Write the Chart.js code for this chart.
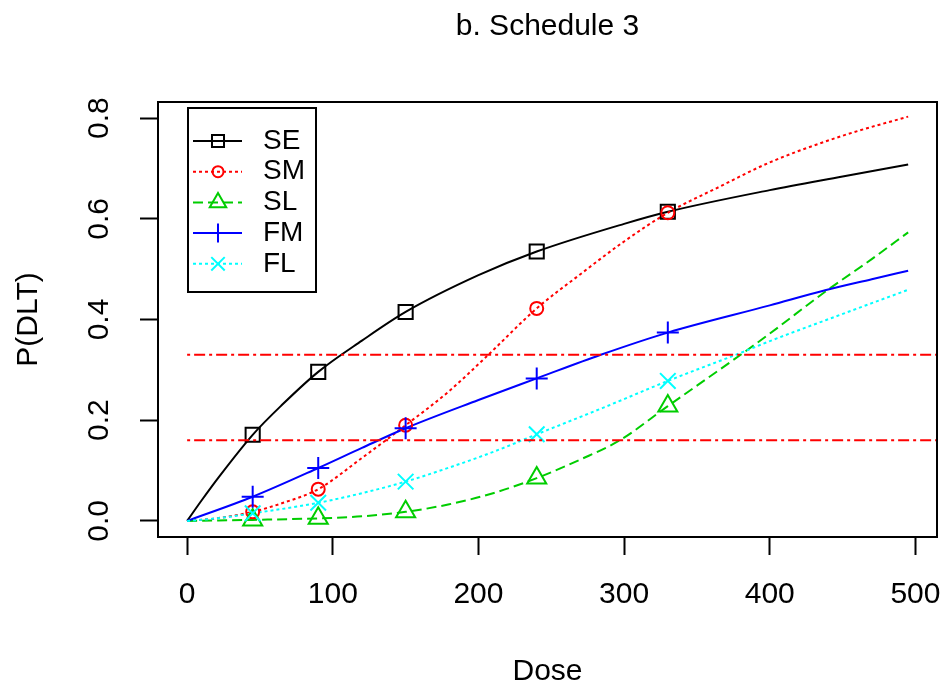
<!DOCTYPE html>
<html>
<head>
<meta charset="utf-8">
<script src="https://cdn.jsdelivr.net/npm/chart.js@4.4.0/dist/chart.umd.min.js"></script>
<style>
  html, body { margin: 0; padding: 0; background: #fff; }
  canvas { display: block; }
</style>
</head>
<body>
<canvas id="chart" width="950" height="692"></canvas>
<script>
// P(DLT) vs dose, schedule 3 — five dose-toxicity curves + target band lines.
const TITLE = "b. Schedule 3";
const xTicks = [0, 100, 200, 300, 400, 500];
const yTicks = [0, 0.2, 0.4, 0.6, 0.8];
const markerDoses = [45, 90, 150, 240, 330];
const thresholds = [0.16, 0.33];
const thresholdDose = [0, 515];

const seDose = [0, 10, 22, 45, 65, 90, 120, 150, 200, 240, 300, 330, 400, 450, 495];
const seProb = [0, 0.041, 0.088, 0.171, 0.23, 0.296, 0.358, 0.415, 0.488, 0.535, 0.59, 0.614, 0.657, 0.684, 0.708];

const smDose = [0, 20, 45, 65, 90, 120, 150, 180, 205, 240, 270, 300, 330, 365, 400, 450, 495];
const smProb = [0, 0.005, 0.018, 0.035, 0.063, 0.125, 0.19, 0.258, 0.325, 0.422, 0.49, 0.555, 0.612, 0.663, 0.712, 0.765, 0.803];

const slDose = [0, 45, 90, 120, 150, 180, 210, 240, 270, 297, 330, 380, 400, 438, 470, 495];
const slProb = [0, 0.002, 0.005, 0.009, 0.018, 0.033, 0.055, 0.085, 0.122, 0.16, 0.228, 0.33, 0.372, 0.455, 0.52, 0.573];

const fmDose = [0, 45, 90, 120, 150, 200, 240, 284, 330, 400, 438, 470, 495];
const fmProb = [0, 0.048, 0.105, 0.145, 0.184, 0.24, 0.283, 0.33, 0.374, 0.428, 0.458, 0.48, 0.497];

const flDose = [0, 20, 45, 90, 120, 150, 180, 211, 240, 285, 330, 382, 400, 449, 495];
const flProb = [0, 0.005, 0.015, 0.036, 0.055, 0.078, 0.106, 0.138, 0.172, 0.224, 0.278, 0.336, 0.357, 0.41, 0.459];

const FONT = "'Liberation Sans', Arial, sans-serif";
Chart.defaults.font.family = FONT;
Chart.defaults.color = "#000";

// стиль каждой кривой (R: lty / pch)
const series = [
  { name: "SE", dose: seDose, prob: seProb, color: "#000000", dash: [],      style: "rect",     r: 10,  lr: 8.5 },
  { name: "SM", dose: smDose, prob: smProb, color: "#ff0000", dash: [3, 3],  style: "circle",   r: 6.5, lr: 5.5 },
  { name: "SL", dose: slDose, prob: slProb, color: "#00cd00", dash: [10, 5], style: "triangle", r: 11,  lr: 9.5 },
  { name: "FM", dose: fmDose, prob: fmProb, color: "#0000ff", dash: [],      style: "cross",    r: 11,  lr: 9.5 },
  { name: "FL", dose: flDose, prob: flProb, color: "#00ffff", dash: [3, 3],  style: "crossRot", r: 11,  lr: 9.5 },
];

const datasets = [];
thresholds.forEach((t) => {
  datasets.push({
    data: thresholdDose.map((d) => ({ x: d, y: t })),
    borderColor: "#ff0000", borderWidth: 2, borderDash: [3, 4, 11, 4],
    pointRadius: 0, fill: false, order: -1,
  });
});
series.forEach((s, i) => {
  const pts = s.dose.map((d, k) => ({ x: d, y: s.prob[k] }));
  datasets.push({
    label: s.name, data: pts,
    borderColor: s.color, borderWidth: 2, borderDash: s.dash,
    pointRadius: 0, fill: false, cubicInterpolationMode: "monotone",
    order: 20 - i,
  });
  datasets.push({
    data: pts.filter((p) => markerDoses.includes(p.x)),
    showLine: false, pointStyle: s.style, pointRadius: s.r,
    pointBorderColor: s.color, pointBackgroundColor: "rgba(0,0,0,0)", pointBorderWidth: 2,
    order: 10 - i,
  });
});

const boxPlugin = {
  id: "rbox",
  afterDatasetsDraw(chart) {
    const { ctx, chartArea: a } = chart;
    ctx.save();
    ctx.strokeStyle = "#000";
    ctx.lineWidth = 2;
    ctx.setLineDash([]);
    ctx.strokeRect(a.left, a.top, a.right - a.left, a.bottom - a.top);

    // заголовок — по центру области графика, как в R
    ctx.fillStyle = "#000";
    ctx.font = "30px " + FONT;
    ctx.textAlign = "center";
    ctx.textBaseline = "middle";
    ctx.fillText(TITLE, (a.left + a.right) / 2, 27);

    // легенда в духе R legend()
    const lx = a.left + 30, ly = a.top + 6, lw = 128, lh = 184;
    ctx.strokeRect(lx, ly, lw, lh);
    ctx.font = "28px " + FONT;
    ctx.textAlign = "left";
    series.forEach((s, i) => {
      const y = ly + 33 + i * 30.7;
      ctx.strokeStyle = s.color;
      ctx.lineWidth = 2;
      ctx.setLineDash(s.dash);
      ctx.beginPath();
      ctx.moveTo(lx + 5, y);
      ctx.lineTo(lx + 54, y);
      ctx.stroke();
      ctx.setLineDash([]);
      ctx.fillStyle = "rgba(0,0,0,0)";
      Chart.helpers.drawPoint(ctx, { pointStyle: s.style, radius: s.lr, rotation: 0, borderWidth: 2 }, lx + 30, y);
      ctx.fillStyle = "#000";
      ctx.fillText(s.name, lx + 75, y);
    });
    ctx.restore();
  },
};

const tickGrid = { drawOnChartArea: false, drawTicks: true, tickLength: 18, tickWidth: 2, tickColor: "#000" };

new Chart(document.getElementById("chart"), {
  type: "line",
  data: { datasets },
  plugins: [boxPlugin],
  options: {
    responsive: false,
    animation: false,
    devicePixelRatio: 1,
    events: [],
    layout: { padding: { left: 0, right: 8, top: 102, bottom: 0 } },
    plugins: {
      legend: { display: false },
      tooltip: { enabled: false },
      title: { display: false },
    },
    scales: {
      x: {
        type: "linear", min: -20, max: 514.8,
        afterBuildTicks: (s) => { s.ticks = xTicks.map((v) => ({ value: v })); },
        afterFit: (s) => { s.height = 155; s.paddingLeft = 0; s.paddingRight = 0; },
        ticks: { font: { size: 30 }, padding: 22, maxRotation: 0, autoSkip: false, callback: (v) => String(v) },
        grid: tickGrid,
        border: { display: false },
        title: { display: true, text: "Dose", font: { size: 30 }, padding: { top: 0, bottom: 2 } },
      },
      y: {
        type: "linear", min: -0.032, max: 0.832,
        afterBuildTicks: (s) => { s.ticks = yTicks.map((v) => ({ value: v })); },
        afterFit: (s) => { s.width = 158; s.paddingTop = 0; s.paddingBottom = 0; },
        ticks: { font: { size: 30 }, padding: 19, minRotation: 90, maxRotation: 90, crossAlign: "center", autoSkip: false, callback: (v) => v.toFixed(1) },
        grid: tickGrid,
        border: { display: false },
        title: { display: true, text: "P(DLT)", font: { size: 30 }, padding: { top: 11, bottom: 0 } },
      },
    },
  },
});
</script>
</body>
</html>
